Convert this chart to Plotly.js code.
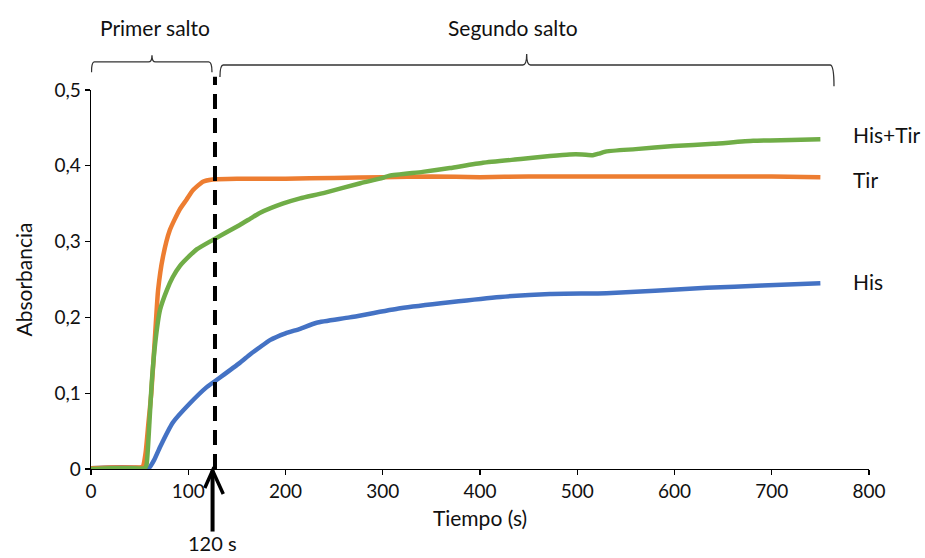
<!DOCTYPE html>
<html>
<head>
<meta charset="utf-8">
<script src="https://cdn.plot.ly/plotly-3.0.1.min.js"></script>
<style>html,body{margin:0;padding:0;background:#fff;}#chart{width:925px;height:558px;}</style>
</head>
<body>
<div id="chart"></div>
<script>
// Tir (orange)
const tirTime = [0,20,40,53,56,59,62,66,69,74,81,91,98,105,115,125,150,200,250,300,350,400,450,500,550,600,650,700,750];
const tirAbs  = [0.001,0.002,0.002,0.003,0.02,0.06,0.1,0.179,0.236,0.28,0.315,0.342,0.355,0.368,0.379,0.382,0.383,0.383,0.384,0.385,0.386,0.385,0.386,0.386,0.386,0.386,0.386,0.386,0.385];
// His+Tir (green)
const hisTirTime = [0,20,40,55,57,60,62.4,66,71,78,84,91.5,102,109,125,153,163.5,174,197,215,239,277,297,307,341,369,403,442,472,492,505,516,522,530,560,599,640,681,720,750];
const hisTirAbs  = [0,0.001,0.001,0.001,0.005,0.06,0.113,0.166,0.21,0.236,0.253,0.268,0.282,0.29,0.302,0.322,0.33,0.338,0.35,0.357,0.364,0.377,0.383,0.387,0.392,0.397,0.404,0.409,0.413,0.415,0.415,0.414,0.416,0.419,0.422,0.426,0.429,0.433,0.434,0.435];
// His (blue)
const hisTime = [0,20,40,55,60,65,71,84,102,119,133,153,163.5,174,184,200,215,232,266,318,369,421,472,530,580,633,690,750];
const hisAbs  = [0.001,0.002,0.002,0.001,0.002,0.012,0.029,0.061,0.087,0.108,0.121,0.14,0.151,0.161,0.170,0.179,0.185,0.193,0.2,0.212,0.220,0.227,0.231,0.232,0.235,0.239,0.242,0.245];

const seriesLabels = ["His+Tir", "Tir", "His"];
const seriesLabelY = [0.441, 0.382, 0.247];
const jumpLabels = ["Primer salto", "Segundo salto"];
const markerTime = 125;
const markerLabel = "120 s";

const FONT = "Lato, 'Open Sans', sans-serif";
const TXT = '#111';

const lineStyle = (c) => ({color: c, width: 4.5, shape: 'spline', smoothing: 0.5});
const traces = [
  {x: hisTime, y: hisAbs, mode: 'lines', line: lineStyle('#4472C4')},
  {x: tirTime, y: tirAbs, mode: 'lines', line: lineStyle('#ED7D31')},
  {x: hisTirTime, y: hisTirAbs, mode: 'lines', line: lineStyle('#70AD47')}
];

const braceColor = '#333';
const shapes = [
  // dashed vertical line
  {type: 'line', xref: 'x', yref: 'paper', x0: markerTime + 2.5, x1: markerTime + 2.5, y0: 0, y1: 1.035,
   line: {color: 'black', width: 4, dash: '15px,9px'}},
  // arrow shaft and head
  {type: 'path', xref: 'x', yref: 'paper',
   path: `M ${markerTime},-0.165 L ${markerTime},-0.004`,
   line: {color: 'black', width: 4}},
  {type: 'path', xref: 'x', yref: 'paper',
   path: `M ${markerTime-8},-0.05 L ${markerTime},-0.004 L ${markerTime+11},-0.066`,
   line: {color: 'black', width: 3.5}},
  // brace 1
  {type: 'path', xref: 'x', yref: 'paper',
   path: 'M 0.5,1.047 Q 0.5,1.074 3.5,1.074 L 59,1.074 Q 62.7,1.074 62.7,1.092 Q 62.7,1.074 66.4,1.074 L 121,1.074 Q 124.4,1.074 124.4,1.047',
   line: {color: braceColor, width: 1.3}},
  // brace 2
  {type: 'path', xref: 'x', yref: 'paper',
   path: 'M 132.6,1.034 Q 132.6,1.066 136,1.066 L 444,1.066 Q 448,1.066 448,1.095 Q 448,1.066 452,1.066 L 760,1.066 Q 764,1.066 764,1.01',
   line: {color: braceColor, width: 1.3}}
];

const annotations = [
  {xref: 'x', yref: 'paper', x: 66, y: 1.166, xanchor: 'center', yanchor: 'middle', text: jumpLabels[0], showarrow: false,
   font: {family: FONT, size: 21, color: TXT}},
  {xref: 'x', yref: 'paper', x: 434, y: 1.166, xanchor: 'center', yanchor: 'middle', text: jumpLabels[1], showarrow: false,
   font: {family: FONT, size: 21, color: TXT}},
  {xref: 'x', yref: 'paper', x: markerTime, y: -0.196, xanchor: 'center', yanchor: 'middle', text: markerLabel, showarrow: false,
   font: {family: FONT, size: 20, color: TXT}}
];
seriesLabels.forEach((s, i) => {
  annotations.push({xref: 'x', yref: 'y', x: 781, y: seriesLabelY[i], text: s, showarrow: false,
    xanchor: 'left', yanchor: 'middle', font: {family: FONT, size: 21, color: TXT}});
});

const layout = {
  width: 925, height: 558,
  margin: {l: 91, r: 56, t: 90, b: 89},
  paper_bgcolor: 'white', plot_bgcolor: 'white',
  showlegend: false,
  separators: ',.',
  font: {family: FONT, size: 19, color: TXT},
  xaxis: {
    range: [0, 800], dtick: 100, tick0: 0,
    showgrid: false, zeroline: false,
    showline: true, linecolor: 'black', linewidth: 1.3,
    ticks: 'outside', ticklen: 5, tickcolor: 'black', tickwidth: 1.3,
    tickfont: {family: FONT, size: 19, color: TXT},
    title: {text: 'Tiempo (s)', font: {family: FONT, size: 21, color: TXT}, standoff: 10}
  },
  yaxis: {
    range: [0, 0.5], dtick: 0.1, tick0: 0,
    showgrid: false, zeroline: false,
    showline: true, linecolor: 'black', linewidth: 1.3,
    ticks: 'outside', ticklen: 5, tickcolor: 'black', tickwidth: 1.3,
    tickfont: {family: FONT, size: 19, color: TXT},
    title: {text: 'Absorbancia', font: {family: FONT, size: 21, color: TXT}, standoff: 16}
  },
  shapes: shapes,
  annotations: annotations
};

Plotly.newPlot('chart', traces, layout, {staticPlot: true, displayModeBar: false});
</script>
</body>
</html>
